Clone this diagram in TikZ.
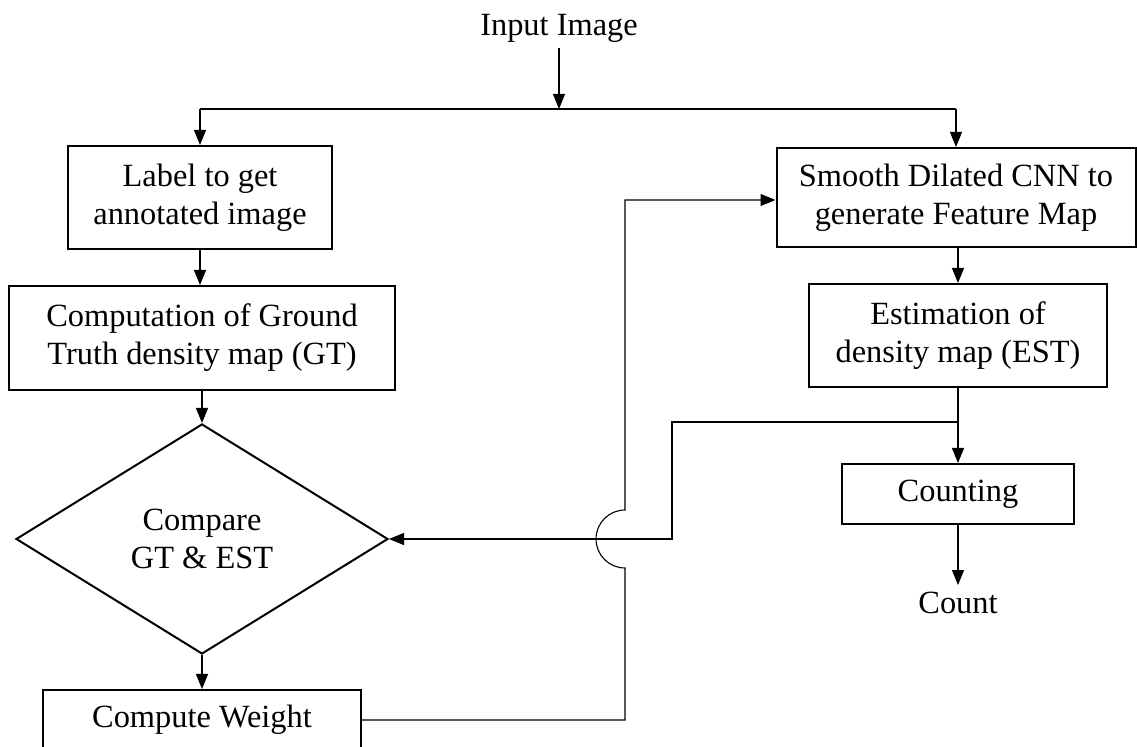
\documentclass[tikz,border=0pt]{standalone}
\usepackage{fontspec}
\setmainfont{Liberation Serif}
\usetikzlibrary{shapes.geometric,arrows.meta,calc}
\begin{document}
\begin{tikzpicture}[x=0.5pt,y=-0.5pt,
  txt/.style={font=\fontsize{16.2}{19}\selectfont, align=center},
  procbox/.style={txt, draw, line width=1pt, inner sep=0pt},
  decbox/.style={txt, draw, line width=1pt, diamond, inner sep=0pt},
  conn/.style={line width=0.5pt},
  arr/.style={line width=0.55pt, -{Triangle[width=6pt,length=7.5pt]}}]
\useasboundingbox (0,0) rectangle (1137,747);
\begin{scope}
\clip (0,0) rectangle (1137,747);
\node[txt, inner sep=3pt] (in) at (559,28) {Input Image};
\node[procbox, minimum width=132pt, minimum height=51.5pt] (label) at (200,197.5) {Label to get\\annotated image};
\node[procbox, minimum width=193pt, minimum height=52pt] (comp) at (202,338) {Computation of Ground\\Truth density map (GT)};
\node[decbox, minimum width=186pt, minimum height=115pt] (dia) at (202,539) {Compare\\GT \& EST};
\node[procbox, minimum width=159pt, minimum height=30pt] (cw) at (202,720) {Compute Weight};
\node[procbox, minimum width=179.5pt, minimum height=49.5pt] (smooth) at (956,197.5) {Smooth Dilated CNN to\\generate Feature Map};
\node[procbox, minimum width=149pt, minimum height=51.5pt] (est) at (958,335.5) {Estimation of\\density map (EST)};
\node[procbox, minimum width=116pt, minimum height=30pt] (cnt) at (958,494) {Counting};
\node[txt] (count) at (958,603) {Count};
\coordinate (j) at (559,109);
\coordinate (b1) at (958,422);
\coordinate (b2) at (672,422);
\coordinate (h) at (625,539);
\draw[arr] (in.south) -- (j);
\draw[line width=1pt] (label.north |- j) -- (smooth.north |- j);
\draw[arr] (label.north |- j) -- (label.north);
\draw[arr] (smooth.north |- j) -- (smooth.north);
\draw[arr] (label.south) -- (label.south |- comp.north);
\draw[arr] (comp.south) -- (dia.north);
\draw[arr] (dia.south) -- (cw.north);
\draw[arr] (smooth.south -| est.north) -- (est.north);
\draw[arr] (est.south) -- (cnt.north);
\draw[arr] (cnt.south) -- (count.north);
\draw[arr] (b1) -- (b2) |- (dia.east);
\draw[arr] (cw.east) -| ($(h)+(0,29)$) arc[start angle=270, end angle=90, radius=14.5pt] |- ($(smooth.west)+(0,2.5)$);
\end{scope}
\end{tikzpicture}
\end{document}
